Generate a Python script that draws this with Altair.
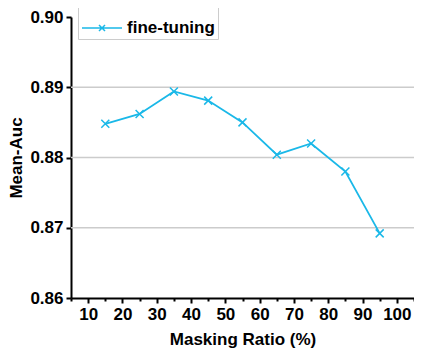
import altair as alt
import pandas as pd

ratios = [15, 25, 35, 45, 55, 65, 75, 85, 95]
mean_auc = [0.8848, 0.8862, 0.8894, 0.8881, 0.8850, 0.8804, 0.8820, 0.8780, 0.8692]
series = ["fine-tuning"] * len(ratios)
grid_values = [0.87, 0.88, 0.89]
y_ticks = [0.86, 0.87, 0.88, 0.89, 0.90]
x_ticks = list(range(5, 110, 5))

COLOR = "#1AB8E8"
FONT = "Liberation Sans"

df = pd.DataFrame({"ratio": ratios, "auc": mean_auc, "series": series})
grid_df = pd.DataFrame({"g": grid_values})

x_scale = alt.Scale(domain=[5, 105], nice=False, zero=False)
y_scale = alt.Scale(domain=[0.86, 0.90], nice=False, zero=False)

x_axis = alt.Axis(
    title="Masking Ratio (%)",
    values=x_ticks,
    labelExpr="(datum.value % 10 === 0 && datum.value >= 10 && datum.value <= 100) ? datum.label : ''",
    tickSize={"condition": {"test": "datum.value % 10 === 0", "value": 5}, "value": 3},
    grid=False,
)
y_axis = alt.Axis(title="Mean-Auc", values=y_ticks, format=".2f", grid=False, tickSize=5)

grid = alt.Chart(grid_df).mark_rule(color="#cccccc", strokeWidth=1.6).encode(
    y=alt.Y("g:Q", scale=y_scale, axis=y_axis)
)

cross = "M-1,-1L1,1M-1,1L1,-1"
legend_sym = "M-1,0L1,0M-0.15,-0.15L0.15,0.15M-0.15,0.15L0.15,-0.15"

line = alt.Chart(df).mark_line(strokeWidth=1.8).encode(
    x=alt.X("ratio:Q", scale=x_scale, axis=x_axis),
    y=alt.Y("auc:Q", scale=y_scale, axis=y_axis),
    color=alt.Color(
        "series:N",
        scale=alt.Scale(domain=["fine-tuning"], range=[COLOR]),
        legend=alt.Legend(
            title=None,
            orient="none",
            legendX=7,
            legendY=-13,
            symbolType=legend_sym,
            symbolSize=1600,
            symbolStrokeWidth=1.5,
            labelFontSize=17,
            labelFontWeight="bold",
            labelFont=FONT,
            labelColor="black",
            labelOffset=4,
            strokeColor="#cccccc",
            padding=3,
        ),
    ),
)

points = alt.Chart(df).mark_point(
    shape=cross, size=64, filled=False, strokeWidth=1.5, color=COLOR, opacity=1
).encode(
    x=alt.X("ratio:Q", scale=x_scale, axis=x_axis),
    y=alt.Y("auc:Q", scale=y_scale, axis=y_axis),
)

chart = alt.layer(grid, line, points).properties(
    width=343,
    height=281,
    autosize=alt.AutoSizeParams(type="none"),
    padding={"left": 63, "top": 9, "right": 0, "bottom": 50},
).configure_view(stroke=None).configure_axis(
    domainColor="black",
    domainWidth=2,
    tickColor="black",
    tickWidth=2,
    labelFont=FONT,
    labelFontSize=17,
    labelFontWeight="bold",
    labelColor="black",
    labelPadding=3,
    titleFont=FONT,
    titleFontSize=17,
    titleFontWeight="bold",
    titleColor="black",
).configure_axisX(titlePadding=9).configure_axisY(titlePadding=4)

chart.save("out.html", embed_options={"renderer": "svg", "actions": False})
